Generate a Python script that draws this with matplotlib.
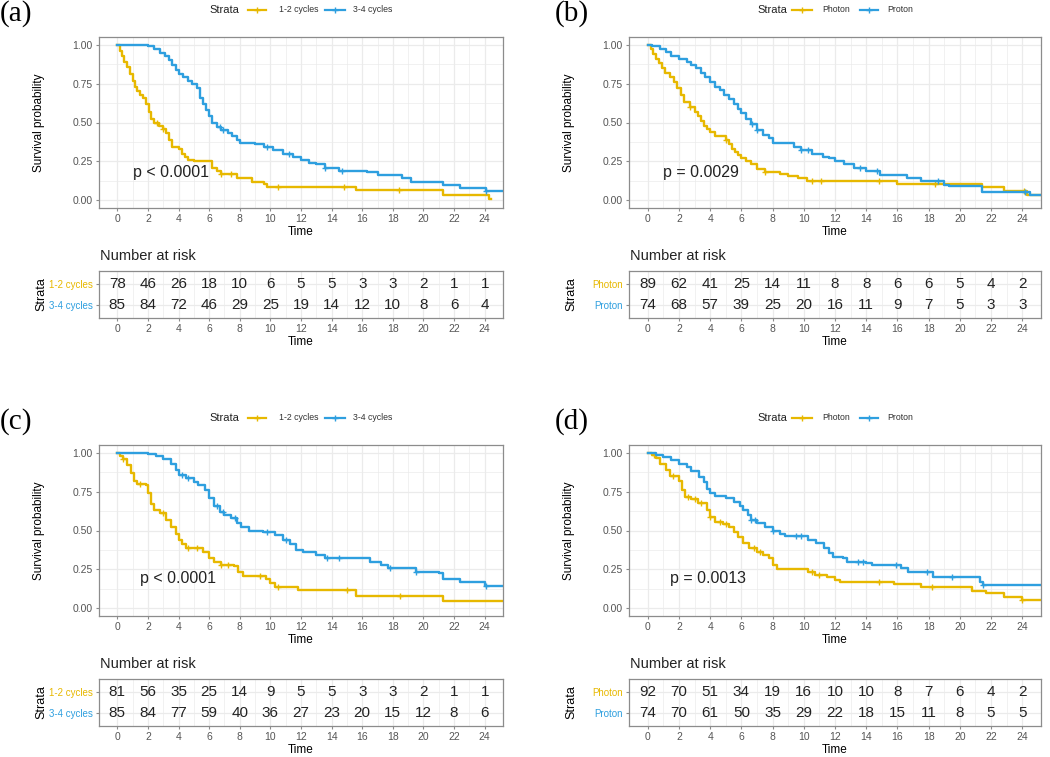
import numpy as np
import matplotlib
matplotlib.use("Agg")
import matplotlib.pyplot as plt
from matplotlib.lines import Line2D

plt.rcParams['font.family'] = ['Liberation Sans', 'DejaVu Sans']

W, H = 1050, 757
ORANGE = "#E7B800"
BLUE = "#2E9FDF"

# ---------------- data ----------------
time_ticks = [0, 2, 4, 6, 8, 10, 12, 14, 16, 18, 20, 22, 24]

# Panel (a)
a_labels = ["1-2 cycles", "3-4 cycles"]
a1_t = [0, 0.15, 0.3, 0.45, 0.6, 0.8, 1.0, 1.15, 1.3, 1.5, 1.7, 1.9, 2.05, 2.2, 2.4, 2.7, 3.0, 3.2, 3.4, 3.6, 4.0, 4.2, 4.4, 4.6, 5.0, 6.2, 6.5, 6.8, 7.8, 8.8, 9.6, 9.8, 15.6, 21.3, 24.3, 24.4]
a1_s = [1.0, 0.96, 0.93, 0.89, 0.86, 0.81, 0.77, 0.73, 0.70, 0.68, 0.66, 0.62, 0.57, 0.52, 0.50, 0.48, 0.46, 0.43, 0.39, 0.34, 0.33, 0.30, 0.28, 0.26, 0.25, 0.21, 0.19, 0.17, 0.145, 0.12, 0.105, 0.085, 0.064, 0.032, 0.008, 0.008]
a1_c = [2.6, 3.0, 6.8, 7.4, 10.5, 14.8, 18.4]
a2_t = [0, 2.0, 2.4, 2.8, 3.1, 3.4, 3.6, 3.8, 4.0, 4.3, 4.6, 4.9, 5.2, 5.4, 5.6, 5.8, 6.0, 6.2, 6.5, 6.8, 7.2, 7.5, 7.8, 8.0, 9.0, 9.6, 10.2, 10.8, 11.5, 12.0, 12.5, 13.0, 13.6, 14.5, 16.3, 17.0, 18.6, 19.2, 21.3, 22.4, 24.1, 25.5]
a2_s = [1.0, 0.99, 0.97, 0.95, 0.93, 0.90, 0.87, 0.84, 0.81, 0.79, 0.77, 0.75, 0.72, 0.66, 0.62, 0.58, 0.54, 0.50, 0.47, 0.45, 0.43, 0.41, 0.39, 0.37, 0.36, 0.34, 0.32, 0.30, 0.28, 0.26, 0.24, 0.23, 0.21, 0.19, 0.18, 0.16, 0.14, 0.12, 0.10, 0.08, 0.06, 0.06]
a2_c = [6.7, 6.9, 9.8, 11.2, 13.6, 14.7, 24.1]
a_risk1 = [78, 46, 26, 18, 10, 6, 5, 5, 3, 3, 2, 1, 1]
a_risk2 = [85, 84, 72, 46, 29, 25, 19, 14, 12, 10, 8, 6, 4]
a_p = "p < 0.0001"

# Panel (b)
b_labels = ["Photon", "Proton"]
b1_t = [0, 0.2, 0.35, 0.5, 0.7, 0.9, 1.1, 1.4, 1.7, 1.9, 2.1, 2.3, 2.7, 3.0, 3.2, 3.4, 3.6, 3.8, 4.0, 4.3, 5.0, 5.2, 5.4, 5.6, 5.8, 6.0, 6.3, 6.6, 7.0, 7.5, 8.5, 9.0, 9.6, 10.2, 16.0, 21.4, 22.8, 24.3, 25.5]
b1_s = [1.0, 0.97, 0.94, 0.91, 0.88, 0.85, 0.82, 0.79, 0.76, 0.72, 0.68, 0.63, 0.60, 0.57, 0.54, 0.51, 0.48, 0.46, 0.44, 0.41, 0.39, 0.36, 0.33, 0.31, 0.29, 0.27, 0.25, 0.23, 0.20, 0.18, 0.17, 0.155, 0.14, 0.125, 0.107, 0.085, 0.062, 0.036, 0.036]
b1_c = [2.7, 5.0, 7.5, 10.5, 11.1, 14.8, 18.4, 24.1]
b2_t = [0, 0.3, 0.8, 1.2, 1.5, 2.0, 2.5, 2.8, 3.1, 3.4, 3.7, 4.0, 4.3, 4.6, 4.9, 5.2, 5.5, 5.8, 6.0, 6.3, 6.6, 7.0, 7.4, 7.8, 8.0, 9.4, 9.8, 10.5, 11.2, 11.6, 12.0, 12.6, 13.2, 14.0, 14.9, 16.6, 17.5, 19.0, 19.3, 21.4, 24.5, 25.5]
b2_s = [1.0, 0.99, 0.975, 0.955, 0.93, 0.91, 0.89, 0.87, 0.85, 0.82, 0.79, 0.76, 0.73, 0.71, 0.68, 0.65, 0.62, 0.59, 0.56, 0.52, 0.49, 0.45, 0.42, 0.40, 0.365, 0.34, 0.32, 0.30, 0.28, 0.27, 0.25, 0.23, 0.21, 0.186, 0.165, 0.143, 0.126, 0.10, 0.09, 0.053, 0.036, 0.036]
b2_c = [6.7, 7.0, 9.8, 10.3, 13.6, 14.7, 18.6, 24.2]
b_risk1 = [89, 62, 41, 25, 14, 11, 8, 8, 6, 6, 5, 4, 2]
b_risk2 = [74, 68, 57, 39, 25, 20, 16, 11, 9, 7, 5, 3, 3]
b_p = "p = 0.0029"

# Panel (c)
c_labels = ["1-2 cycles", "3-4 cycles"]
c1_t = [0, 0.2, 0.4, 0.6, 0.9, 1.1, 1.3, 1.9, 2.0, 2.2, 2.4, 2.8, 3.2, 3.5, 3.8, 4.0, 4.2, 4.5, 5.6, 6.0, 6.3, 6.8, 7.6, 7.9, 8.2, 9.7, 10.0, 10.3, 11.8, 15.6, 21.3, 25.5]
c1_s = [1.0, 0.98, 0.96, 0.92, 0.87, 0.82, 0.80, 0.79, 0.74, 0.67, 0.63, 0.61, 0.57, 0.525, 0.48, 0.44, 0.41, 0.385, 0.36, 0.32, 0.30, 0.28, 0.27, 0.235, 0.205, 0.185, 0.16, 0.135, 0.118, 0.081, 0.045, 0.045]
c1_c = [0.4, 1.5, 3.0, 4.6, 5.2, 6.8, 7.2, 9.3, 10.5, 15.0, 18.5]
c2_t = [0, 2.0, 2.5, 3.0, 3.5, 3.8, 4.0, 4.5, 5.0, 5.3, 5.7, 6.0, 6.3, 6.7, 7.0, 7.4, 7.8, 8.1, 8.6, 9.5, 10.3, 10.8, 11.3, 11.7, 12.1, 13.0, 13.6, 16.5, 17.2, 17.7, 19.5, 21.0, 21.3, 22.4, 24.0, 25.5]
c2_s = [1.0, 0.99, 0.98, 0.957, 0.93, 0.89, 0.857, 0.835, 0.81, 0.79, 0.76, 0.71, 0.66, 0.62, 0.60, 0.58, 0.55, 0.525, 0.50, 0.49, 0.47, 0.44, 0.41, 0.375, 0.364, 0.343, 0.32, 0.30, 0.28, 0.257, 0.235, 0.225, 0.186, 0.17, 0.14, 0.14]
c2_c = [4.2, 4.6, 6.5, 6.9, 7.7, 9.8, 11.0, 13.7, 14.5, 17.8, 19.5, 24.1]
c_risk1 = [81, 56, 35, 25, 14, 9, 5, 5, 3, 3, 2, 1, 1]
c_risk2 = [85, 84, 77, 59, 40, 36, 27, 23, 20, 15, 12, 8, 6]
c_p = "p < 0.0001"

# Panel (d)
d_labels = ["Photon", "Proton"]
d1_t = [0, 0.3, 0.5, 0.8, 1.2, 1.4, 2.0, 2.2, 2.4, 2.8, 3.2, 3.8, 4.0, 4.3, 4.8, 5.2, 5.5, 5.8, 6.1, 6.5, 7.0, 7.4, 7.8, 8.0, 8.3, 10.3, 10.7, 11.5, 12.0, 12.3, 15.8, 17.5, 20.8, 21.7, 22.8, 24.0, 25.5]
d1_s = [1.0, 0.985, 0.964, 0.93, 0.89, 0.85, 0.82, 0.76, 0.715, 0.70, 0.675, 0.63, 0.59, 0.557, 0.54, 0.525, 0.49, 0.46, 0.42, 0.385, 0.36, 0.34, 0.32, 0.28, 0.25, 0.236, 0.214, 0.203, 0.18, 0.17, 0.156, 0.135, 0.113, 0.096, 0.075, 0.05, 0.05]
d1_c = [0.4, 1.6, 2.6, 3.0, 3.4, 4.0, 4.6, 5.0, 6.8, 7.2, 10.5, 11.0, 14.8, 18.2, 24.0]
d2_t = [0, 0.5, 1.0, 1.5, 2.0, 2.5, 2.8, 3.3, 3.6, 3.8, 4.0, 4.3, 5.0, 5.5, 5.9, 6.1, 6.4, 6.6, 7.0, 7.5, 8.0, 8.5, 8.8, 10.3, 10.8, 11.3, 11.6, 11.9, 12.5, 12.8, 14.0, 14.4, 16.2, 16.7, 18.3, 21.3, 21.5, 25.5]
d2_s = [1.0, 0.985, 0.97, 0.953, 0.93, 0.906, 0.88, 0.846, 0.81, 0.77, 0.74, 0.72, 0.707, 0.685, 0.66, 0.63, 0.60, 0.57, 0.546, 0.525, 0.50, 0.48, 0.465, 0.44, 0.418, 0.385, 0.353, 0.33, 0.32, 0.30, 0.29, 0.28, 0.257, 0.23, 0.203, 0.17, 0.15, 0.15]
d2_c = [6.6, 6.9, 8.0, 9.5, 9.8, 13.5, 13.8, 15.9, 17.9, 19.5, 21.5]
d_risk1 = [92, 70, 51, 34, 19, 16, 10, 10, 8, 7, 6, 4, 2]
d_risk2 = [74, 70, 61, 50, 35, 29, 22, 18, 15, 11, 8, 5, 5]
d_p = "p = 0.0013"

# ---------------- drawing ----------------
fig = plt.figure(figsize=(W / 100, H / 100), dpi=100)
TICKC = "#555555"
GRIDC = "#EBEBEB"
BORDER = "#8C8C8C"
XLIM = (-1.2, 25.2)


def rect(l, r, t, b):
    return [l / W, 1 - b / H, (r - l) / W, (b - t) / H]


def fx(x):
    return x / W


def fy(y):
    return 1 - y / H


def style_axes(ax):
    for sp in ax.spines.values():
        sp.set_color(BORDER)
        sp.set_linewidth(0.9)
    ax.tick_params(which='major', colors=BORDER, labelcolor=TICKC, labelsize=7.5,
                   length=2.5, width=0.8, pad=2)
    ax.tick_params(which='minor', length=0)
    ax.set_axisbelow(True)
    ax.grid(which='major', color=GRIDC, lw=0.9)
    ax.grid(which='minor', color=GRIDC, lw=0.5)


def s_at(t, s, ct):
    idx = np.searchsorted(np.asarray(t), np.asarray(ct), side='right') - 1
    return np.asarray(s)[idx]


def panel(x0, y0, tag, labels, c1, c2, risk1, risk2, ptxt, ppos, leg):
    r = x0 + 404 if x0 < 300 else x0 + 412
    ax = fig.add_axes(rect(x0, r, 37 + y0, 208 + y0))
    style_axes(ax)
    for (t, s, cens), col in ((c1, ORANGE), (c2, BLUE)):
        ax.step(t, s, where='post', color=col, lw=1.7, clip_on=True)
        ax.plot(cens, s_at(t, s, cens), '+', color=col, ms=5, mew=1.0, ls='none')
    ax.set_xlim(*XLIM)
    ax.set_ylim(-0.05, 1.05)
    ax.set_xticks(time_ticks)
    ax.set_xticks(np.arange(1, 25, 2), minor=True)
    ax.set_yticks([0, 0.25, 0.5, 0.75, 1.0])
    ax.set_yticklabels(["0.00", "0.25", "0.50", "0.75", "1.00"])
    ax.set_yticks([0.125, 0.375, 0.625, 0.875], minor=True)
    ax.set_xlabel("Time", fontsize=8.5, labelpad=1)
    ax.set_ylabel("Survival probability", fontsize=8.5)
    ax.yaxis.set_label_coords(-54 / (r - x0), 0.5)
    ax.text(ppos[0], ppos[1], ptxt, fontsize=11.5, color='#222222', va='center', ha='left')

    # risk table
    rx = fig.add_axes(rect(x0, r, 271 + y0, 318 + y0))
    style_axes(rx)
    rx.set_xlim(*XLIM)
    rx.set_ylim(0.4, 2.6)
    rx.set_xticks(time_ticks)
    rx.set_xticks(np.arange(1, 25, 2), minor=True)
    rx.set_yticks([2, 1])
    rx.set_yticklabels(labels)
    for lab, col in zip(rx.get_yticklabels(), (ORANGE, BLUE)):
        lab.set_color(col)
        lab.set_fontsize(7)
    for tt, n1, n2 in zip(time_ticks, risk1, risk2):
        rx.text(tt, 2, str(n1), ha='center', va='center', fontsize=11, color='#222222')
        rx.text(tt, 1, str(n2), ha='center', va='center', fontsize=11, color='#222222')
    rx.set_xlabel("Time", fontsize=8.5, labelpad=1)
    rx.set_ylabel("Strata", fontsize=9)
    rx.yaxis.set_label_coords(-52 / (r - x0), 0.5)
    fig.text(fx(x0 + 1), fy(256 + y0), "Number at risk", fontsize=10.5, va='center',
             ha='left', color='#222222')

    # panel tag
    fig.text(fx(tag[1]), fy(14 + y0), tag[0], fontsize=21, family='Liberation Serif',
             va='center', ha='left')

    # legend
    ly = fy(10 + y0)
    fig.text(fx(leg[0]), ly, "Strata", fontsize=8, va='center', ha='left', color='#222222')
    for (xa, xb, xt), col, lab in ((leg[1], ORANGE, labels[0]), (leg[2], BLUE, labels[1])):
        fig.add_artist(Line2D([fx(xa), fx(xb)], [ly, ly], color=col, lw=1.6,
                              transform=fig.transFigure))
        fig.add_artist(Line2D([fx((xa + xb) / 2)], [ly], color=col, marker='+', ms=5, mew=1.0,
                              transform=fig.transFigure))
        fig.text(fx(xt), ly, lab, fontsize=6.3, va='center', ha='left', color='#333333')


panel(99, 0, ("(a)", 0), a_labels, (a1_t, a1_s, a1_c), (a2_t, a2_s, a2_c),
      a_risk1, a_risk2, a_p, (1.0, 0.18), (209, (248, 266, 279), (325, 345, 353)))
panel(629, 0, ("(b)", 555), b_labels, (b1_t, b1_s, b1_c), (b2_t, b2_s, b2_c),
      b_risk1, b_risk2, b_p, (1.0, 0.18), (757, (792, 812, 822), (860, 878, 887)))
panel(99, 408, ("(c)", 0), c_labels, (c1_t, c1_s, c1_c), (c2_t, c2_s, c2_c),
      c_risk1, c_risk2, c_p, (1.5, 0.19), (209, (248, 266, 279), (325, 345, 353)))
panel(629, 408, ("(d)", 555), d_labels, (d1_t, d1_s, d1_c), (d2_t, d2_s, d2_c),
      d_risk1, d_risk2, d_p, (1.4, 0.19), (757, (792, 812, 822), (860, 878, 887)))

fig.savefig("out.png", dpi=100)
